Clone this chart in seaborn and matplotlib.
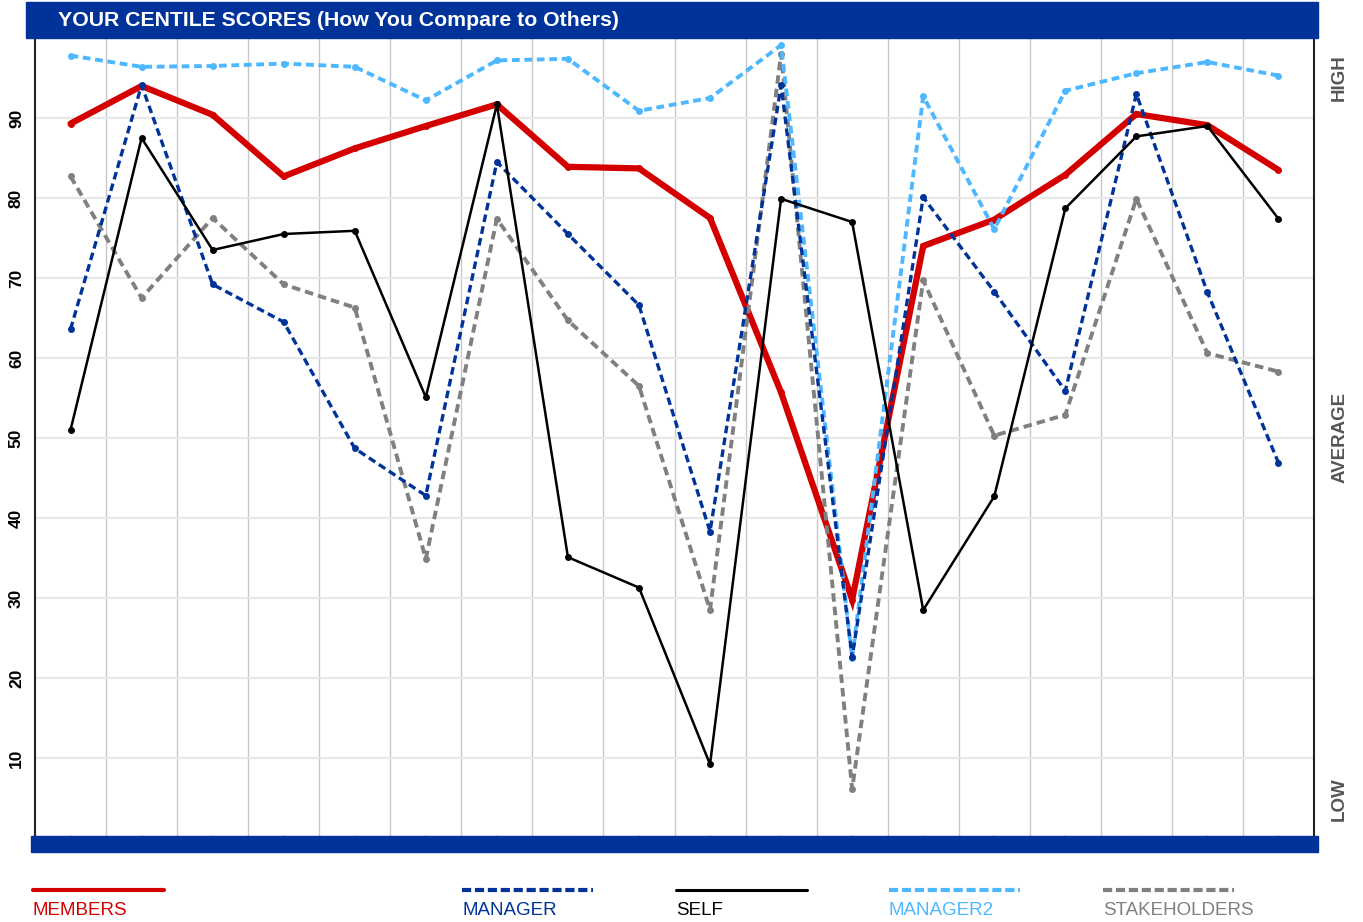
import numpy as np
import pandas as pd
import matplotlib
matplotlib.use("Agg")
import matplotlib.pyplot as plt
import seaborn as sns
from matplotlib.patches import Rectangle
from matplotlib.lines import Line2D

# ── Data ───────────────────────────────────────────────────────
ITEMS = list(range(18))
members = [89.3, 94.0, 90.4, 82.7, 86.2, 89.0, 91.7, 83.9, 83.7, 77.5, 55.7, 29.8,
           74.0, 77.3, 82.9, 90.5, 89.1, 83.5]
manager = [63.6, 94.1, 69.2, 64.5, 48.7, 42.8, 84.5, 75.5, 66.6, 38.3, 94.1, 22.6,
           80.1, 68.3, 55.9, 93.0, 68.2, 46.9]
self_scores = [51.0, 87.5, 73.5, 75.5, 75.9, 55.1, 91.7, 35.1, 31.3, 9.2, 79.9, 77.0,
               28.5, 42.7, 78.7, 87.7, 89.0, 77.4]
manager2 = [97.8, 96.4, 96.5, 96.8, 96.4, 92.2, 97.2, 97.4, 90.9, 92.5, 99.1, 22.5,
            92.7, 76.1, 93.4, 95.6, 97.0, 95.3]
stakeholders = [82.7, 67.5, 77.5, 69.2, 66.3, 34.9, 77.4, 64.7, 56.5, 28.5, 98.0, 6.1,
                69.7, 50.3, 52.9, 79.9, 60.6, 58.3]

SERIES = ["MEMBERS", "MANAGER", "SELF", "MANAGER2", "STAKEHOLDERS"]
VALUES = [members, manager, self_scores, manager2, stakeholders]
COLORS = ["#d40000", "#003399", "#000000", "#4db8ff", "#808080"]
WIDTHS = [4.5, 2.4, 1.8, 2.8, 2.8]
DASHES = [None, (2.3, 1.3), None, (2.0, 1.2), (2.2, 1.3)]
Y_TICKS = [10, 20, 30, 40, 50, 60, 70, 80, 90]
BAND_LABELS = [("HIGH", 95), ("AVERAGE", 50.1), ("LOW", 4.8)]

NAVY = "#003399"
W, H = 1363, 922

sns.set_theme(style="white")
plt.rcParams["font.family"] = ["Liberation Sans", "DejaVu Sans"]

fig = plt.figure(figsize=(W / 100, H / 100), dpi=100)
ax = fig.add_axes([35 / W, 1 - 838 / H, (1314 - 35) / W, 800 / H])

df = pd.DataFrame({"item": ITEMS})
draw_order = [0, 4, 3, 1, 2]
for i in draw_order:
    df["score"] = VALUES[i]
    sns.lineplot(data=df, x="item", y="score", ax=ax, color=COLORS[i],
                 linewidth=WIDTHS[i], marker="o", markersize=5, markeredgewidth=0, zorder=3)
    line = ax.lines[-1]
    if DASHES[i] is not None:
        line.set_dashes(DASHES[i])
        line.set_dash_capstyle("butt")
    line.set_solid_joinstyle("miter" if i == 0 else "round")

ax.set_xlim(-0.5, 17.5)
ax.set_ylim(0, 100)
ax.set_xlabel("")
ax.set_ylabel("")

# grid: vertical at category boundaries, horizontal at the ticks
ax.set_xticks(ITEMS)
ax.set_xticklabels([])
ax.set_xticks(np.arange(0.5, 17, 1), minor=True)
ax.grid(which="minor", axis="x", color="#c8c8c8", linewidth=1.0)
ax.set_yticks(Y_TICKS)
ax.grid(which="major", axis="y", color="#e8e8e8", linewidth=1.6)
ax.set_axisbelow(True)
ax.tick_params(axis="x", which="major", direction="in", length=2, color="#dddddd", bottom=True)
ax.tick_params(axis="x", which="minor", length=0)
ax.tick_params(axis="y", length=0, pad=8, labelsize=12.5, labelrotation=90, labelcolor="black")
for lab in ax.get_yticklabels():
    lab.set_fontweight("bold")
    lab.set_va("center")

for side in ["top", "bottom"]:
    ax.spines[side].set_visible(False)
ax.spines["left"].set_color("#222222")
ax.spines["left"].set_linewidth(1.5)
ax.spines["right"].set_color("#222222")
ax.spines["right"].set_linewidth(1.5)

# right side band labels
for text, yv in BAND_LABELS:
    ax.text(1.02, yv / 100, text, transform=ax.transAxes, rotation=90,
            ha="center", va="center", fontsize=13.5, fontweight="bold", color="#555555")

# title bar and bottom bar
fig.add_artist(Rectangle((26 / W, 1 - 38 / H), (1318 - 26) / W, 36 / H,
                         transform=fig.transFigure, color=NAVY, zorder=5))
fig.text(58 / W, 1 - 20 / H, "YOUR CENTILE SCORES (How You Compare to Others)",
         color="white", fontsize=15.3, fontweight="bold", va="center", ha="left", zorder=6)
fig.add_artist(Rectangle((31 / W, 1 - 852 / H), (1318 - 31) / W, 16 / H,
                         transform=fig.transFigure, color=NAVY, zorder=5))

# legend along the bottom
LEG_X = [33, 462, 676, 889, 1103]
for i, name in enumerate(SERIES):
    x0 = LEG_X[i] / W
    ln = Line2D([x0, x0 + 131 / W], [1 - 890 / H] * 2, transform=fig.transFigure,
                color=COLORS[i], linewidth=3 if (DASHES[i] or i == 0) else 2.2)
    if DASHES[i] is not None:
        ln.set_dashes((2.2, 0.9))
        ln.set_dash_capstyle("butt")
    fig.add_artist(ln)
    fig.text(x0, 1 - 910 / H, name, color=COLORS[i], fontsize=13.5, ha="left", va="center")

fig.savefig("out.png", dpi=100)
